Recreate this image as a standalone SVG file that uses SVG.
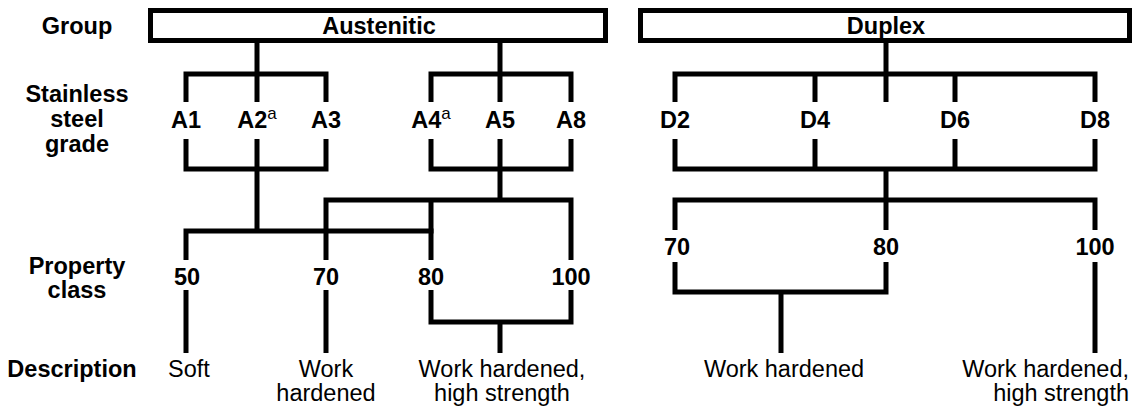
<svg xmlns="http://www.w3.org/2000/svg" width="1134" height="410" viewBox="0 0 1134 410">
<style>
text{font-family:"Liberation Sans",Arial,sans-serif;font-size:23.5px;fill:#000}
.b{font-weight:bold}
.m{text-anchor:middle}
.e{text-anchor:end}
.sup{font-size:17px;font-weight:normal}
.box{fill:#fff;stroke:#000;stroke-width:5}
.ln{fill:none;stroke:#000;stroke-width:5;stroke-linejoin:miter;stroke-linecap:butt}
</style>
<rect width="1134" height="410" fill="#fff"/>
<g id="row-labels">
<text class="b m" x="77" y="34">Group</text>
<text class="b m" x="77" y="102">Stainless</text>
<text class="b m" x="77" y="127">steel</text>
<text class="b m" x="77" y="152">grade</text>
<text class="b m" x="77" y="274">Property</text>
<text class="b m" x="77" y="298">class</text>
<text class="b m" x="72" y="377">Description</text>
</g>
<g id="connectors" class="ln">
<path d="M257,41V102M186,102V74H326V102"/>
<path d="M500,41V102M431,102V74H571V102"/>
<path d="M186,139V169H326V139M257,139V231"/>
<path d="M431,139V169H571V139M500,139V200"/>
<path d="M186,260V231H433.5"/>
<path d="M326,260V200H571V260M431,200V260"/>
<path d="M186,290V353M326,290V353"/>
<path d="M431,290V322H571V290M500,322V353"/>
<path d="M886,41V102M675,102V74H1095V102M815,74V102M955,74V102"/>
<path d="M675,139V169H1095V139M815,139V169M955,139V169M886,169V230"/>
<path d="M675,230V200H1095V230"/>
<path d="M675,262V292H886V262M781,292V353"/>
<path d="M1095,262V353"/>
</g>
<g id="austenitic"><rect class="box" x="150.5" y="10.5" width="455" height="30"/><text class="b m" x="379" y="34">Austenitic</text></g>
<g id="duplex"><rect class="box" x="640.5" y="10.5" width="489" height="30"/><text class="b m" x="886" y="34">Duplex</text></g>
<g id="A1"><text class="b m" x="186" y="128">A1</text></g>
<g id="A2"><text class="b m" x="257" y="128">A2<tspan class="sup" dy="-9">a</tspan></text></g>
<g id="A3"><text class="b m" x="326" y="128">A3</text></g>
<g id="A4"><text class="b m" x="431" y="128">A4<tspan class="sup" dy="-9">a</tspan></text></g>
<g id="A5"><text class="b m" x="500" y="128">A5</text></g>
<g id="A8"><text class="b m" x="571" y="128">A8</text></g>
<g id="D2"><text class="b m" x="675" y="128">D2</text></g>
<g id="D4"><text class="b m" x="815" y="128">D4</text></g>
<g id="D6"><text class="b m" x="955" y="128">D6</text></g>
<g id="D8"><text class="b m" x="1095" y="128">D8</text></g>
<g id="pc50"><text class="b m" x="187" y="285">50</text></g>
<g id="pc70a"><text class="b m" x="326" y="285">70</text></g>
<g id="pc80a"><text class="b m" x="431" y="285">80</text></g>
<g id="pc100a"><text class="b m" x="571" y="285">100</text></g>
<g id="pc70d"><text class="b m" x="677" y="255">70</text></g>
<g id="pc80d"><text class="b m" x="886" y="255">80</text></g>
<g id="pc100d"><text class="b m" x="1095" y="255">100</text></g>
<g id="desc-soft"><text class="m" x="189" y="377">Soft</text></g>
<g id="desc-wh-a"><text class="m" x="326" y="377">Work</text><text class="m" x="326" y="401">hardened</text></g>
<g id="desc-whhs-a"><text class="m" x="502" y="377">Work hardened,</text><text class="m" x="502" y="401">high strength</text></g>
<g id="desc-wh-d"><text class="m" x="784" y="377">Work hardened</text></g>
<g id="desc-whhs-d"><text class="e" x="1129" y="377">Work hardened,</text><text class="e" x="1129" y="401">high strength</text></g>
</svg>
